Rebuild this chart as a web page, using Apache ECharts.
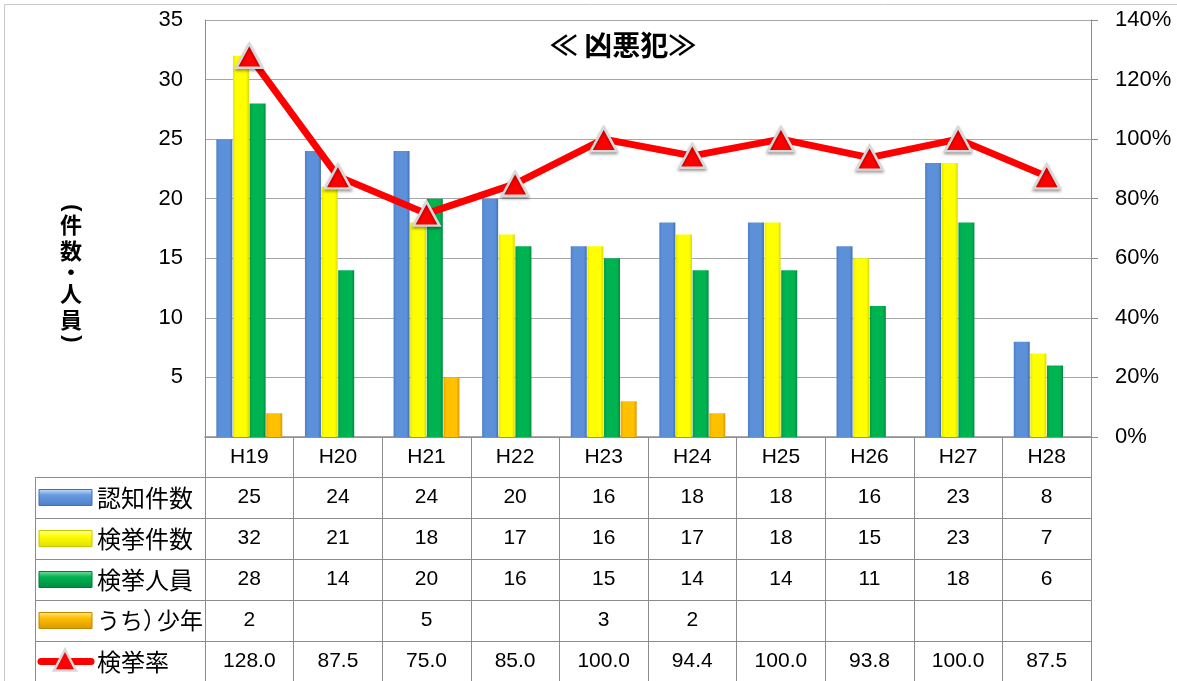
<!DOCTYPE html>
<html><head><meta charset="utf-8">
<script src="https://cdn.jsdelivr.net/npm/echarts@6/dist/echarts.min.js"></script>
<style>html,body{margin:0;padding:0;background:#fff}#c{width:1177px;height:681px}</style>
</head><body><div id="c"></div>
<script>
const categories = ['H19','H20','H21','H22','H23','H24','H25','H26','H27','H28'];
const seriesNames = ['認知件数','検挙件数','検挙人員','うち）少年','検挙率'];
const ninchi = [25,24,24,20,16,18,18,16,23,8];
const kenkyo = [32,21,18,17,16,17,18,15,23,7];
const jinin  = [28,14,20,16,15,14,14,11,18,6];
const shonen = [2,null,5,null,3,2,null,null,null,null];
const rate   = [128.0,87.5,75.0,85.0,100.0,94.4,100.0,93.8,100.0,87.5];

const NUM_FONT = '"Liberation Sans", Arial, sans-serif';
const JP_FONT = '"Noto Sans CJK JP", sans-serif';

function hGrad(a,b,c){
  return new echarts.graphic.LinearGradient(0,0,1,0,[
    {offset:0,color:a},{offset:0.18,color:b},{offset:0.82,color:b},{offset:1,color:c}]);
}
function vGrad(top,mid,bot){
  return new echarts.graphic.LinearGradient(0,0,0,1,[
    {offset:0,color:top},{offset:0.35,color:mid},{offset:1,color:bot}]);
}
const barStyles = [
  {fill:hGrad('#4C7FC6','#5C90D8','#4070B6'), icon:vGrad('#C4E2FF','#6A9BE0','#4A7EC8'), stroke:'#3F6FB4'},
  {fill:hGrad('#E8E800','#FFFF00','#DADA00'), icon:vGrad('#FFFFB0','#FFFF00','#E0E000'), stroke:'#C8C800'},
  {fill:hGrad('#009A48','#00B351','#008A40'), icon:vGrad('#80E0A8','#00B351','#008A40'), stroke:'#007A38'},
  {fill:hGrad('#E6A500','#FFC000','#D89800'), icon:vGrad('#FFE890','#FFC000','#D89800'), stroke:'#C08800'}
];
const barData = [ninchi, kenkyo, jinin, shonen];

const chart = echarts.init(document.getElementById('c'), null, {renderer:'canvas'});

const series = barData.map((d,i)=>({
  name: seriesNames[i], type:'bar', data:d, yAxisIndex:0,
  barWidth:16, barGap:'4%',
  itemStyle:{color:barStyles[i].fill, shadowColor:'rgba(0,0,0,0.35)', shadowBlur:3, shadowOffsetX:2, shadowOffsetY:1}
}));
series.push({
  name: seriesNames[4], type:'line', data:rate, yAxisIndex:1, z:10,
  lineStyle:{color:'#FF0000', width:7},
  symbol:'triangle', symbolSize:[26,24],
  itemStyle:{color:'#FF0000', borderColor:'#D8D8D8', borderWidth:2.5, shadowColor:'rgba(0,0,0,0.3)', shadowBlur:3, shadowOffsetY:2}
});

chart.setOption({
  animation:false,
  backgroundColor:'#fff',
  grid:{left:205, right:86, top:20, bottom:244, containLabel:false},
  xAxis:{type:'category', data:categories, boundaryGap:true,
    axisLine:{lineStyle:{color:'#8C8C8C', width:1.5}},
    axisTick:{show:true, length:244, interval:0, lineStyle:{color:'#8C8C8C'}},
    axisLabel:{color:'#000', fontSize:21, fontFamily:NUM_FONT, margin:10, interval:0}
  },
  yAxis:[
    {type:'value', min:0, max:35, interval:5,
      axisLine:{show:true, lineStyle:{color:'#8C8C8C'}}, axisTick:{show:false},
      axisLabel:{color:'#000', fontSize:22, fontFamily:NUM_FONT, margin:22, formatter:v=>v===0?'':String(v)},
      splitLine:{lineStyle:{color:'#A6A6A6'}}
    },
    {type:'value', min:0, max:140, interval:20, position:'right',
      axisLine:{show:true, lineStyle:{color:'#8C8C8C'}},
      axisTick:{show:true, length:7, lineStyle:{color:'#8C8C8C'}},
      axisLabel:{color:'#000', fontSize:22, fontFamily:NUM_FONT, margin:24, formatter:'{value}%'},
      splitLine:{show:false}
    }
  ],
  series: series
});

const g = [];
g.push({type:'rect', shape:{x:4.5,y:4.5,width:1200,height:700}, style:{fill:'none', stroke:'#C8C8C8', lineWidth:1}, silent:true, z:0});
g.push({type:'text', style:{text:'≪ 凶悪犯≫', x:623, y:45, textAlign:'center', textVerticalAlign:'middle', font:'bold 28px '+JP_FONT, fill:'#000'}, z:20});
const nameChars = ['件','数','・','人','員'];
const nameYs = [225, 251, 272, 294, 320];
nameChars.forEach((ch,i)=>{
  g.push({type:'text', style:{text:ch, x:71, y:nameYs[i], textAlign:'center', textVerticalAlign:'middle', font:'bold 22px '+JP_FONT, fill:'#000'}, z:20});
});
g.push({type:'group', x:72, y:208, rotation:-Math.PI/2, children:[
  {type:'text', style:{text:'(', x:0, y:0, textAlign:'center', textVerticalAlign:'middle', font:'bold 22px '+NUM_FONT, fill:'#000'}, z:20}
]});
g.push({type:'group', x:72, y:339, rotation:-Math.PI/2, children:[
  {type:'text', style:{text:')', x:0, y:0, textAlign:'center', textVerticalAlign:'middle', font:'bold 22px '+NUM_FONT, fill:'#000'}, z:20}
]});

const rowTop = 477, rowH = 41;
const xs = categories.map((c,i)=>chart.convertToPixel({xAxisIndex:0}, i));
for(let r=0;r<5;r++){
  const y = rowTop + r*rowH;
  g.push({type:'line', shape:{x1:35,y1:y+0.5,x2:1091,y2:y+0.5}, style:{stroke:'#8C8C8C', lineWidth:1}, z:5});
}
g.push({type:'line', shape:{x1:35.5,y1:rowTop,x2:35.5,y2:681}, style:{stroke:'#8C8C8C', lineWidth:1}, z:5});

const rows = [ninchi, kenkyo, jinin, shonen, rate];
rows.forEach((arr,r)=>{
  const cy = rowTop + r*rowH + rowH/2;
  const name = seriesNames[r];
  if(name.indexOf('）')>=0){
    const parts = name.split('）');
    g.push({type:'text', style:{x:97, y:cy, textAlign:'left', textVerticalAlign:'middle',
      text:'{a|'+parts[0]+'}{b|）}{a|'+parts[1]+'}',
      rich:{a:{font:'23px '+JP_FONT, fill:'#000'}, b:{font:'23px '+JP_FONT, fill:'#000', width:14}}}, z:20});
  } else {
    g.push({type:'text', style:{text:name, x:97, y:cy, textAlign:'left', textVerticalAlign:'middle', font:'24px '+JP_FONT, fill:'#000'}, z:20});
  }
  if(r<4){
    g.push({type:'rect', shape:{x:39,y:cy-8,width:53,height:16}, style:{fill:barStyles[r].icon, stroke:barStyles[r].stroke, lineWidth:1}, z:20});
  } else {
    g.push({type:'line', shape:{x1:41,y1:cy,x2:91,y2:cy}, style:{stroke:'#FF0000', lineWidth:7, lineCap:'round'}, z:20});
    g.push({type:'polygon', shape:{points:[[65,cy-12],[76,cy+9],[54,cy+9]]}, style:{fill:'#FF0000', stroke:'#D8D8D8', lineWidth:2.5}, z:21});
  }
  arr.forEach((v,i)=>{
    if(v===null || v===undefined) return;
    const txt = r===4 ? v.toFixed(1) : String(v);
    g.push({type:'text', style:{text:txt, x:xs[i], y:cy, textAlign:'center', textVerticalAlign:'middle', font:'21px '+NUM_FONT, fill:'#000'}, z:20});
  });
});
chart.setOption({graphic:g});
</script></body></html>
